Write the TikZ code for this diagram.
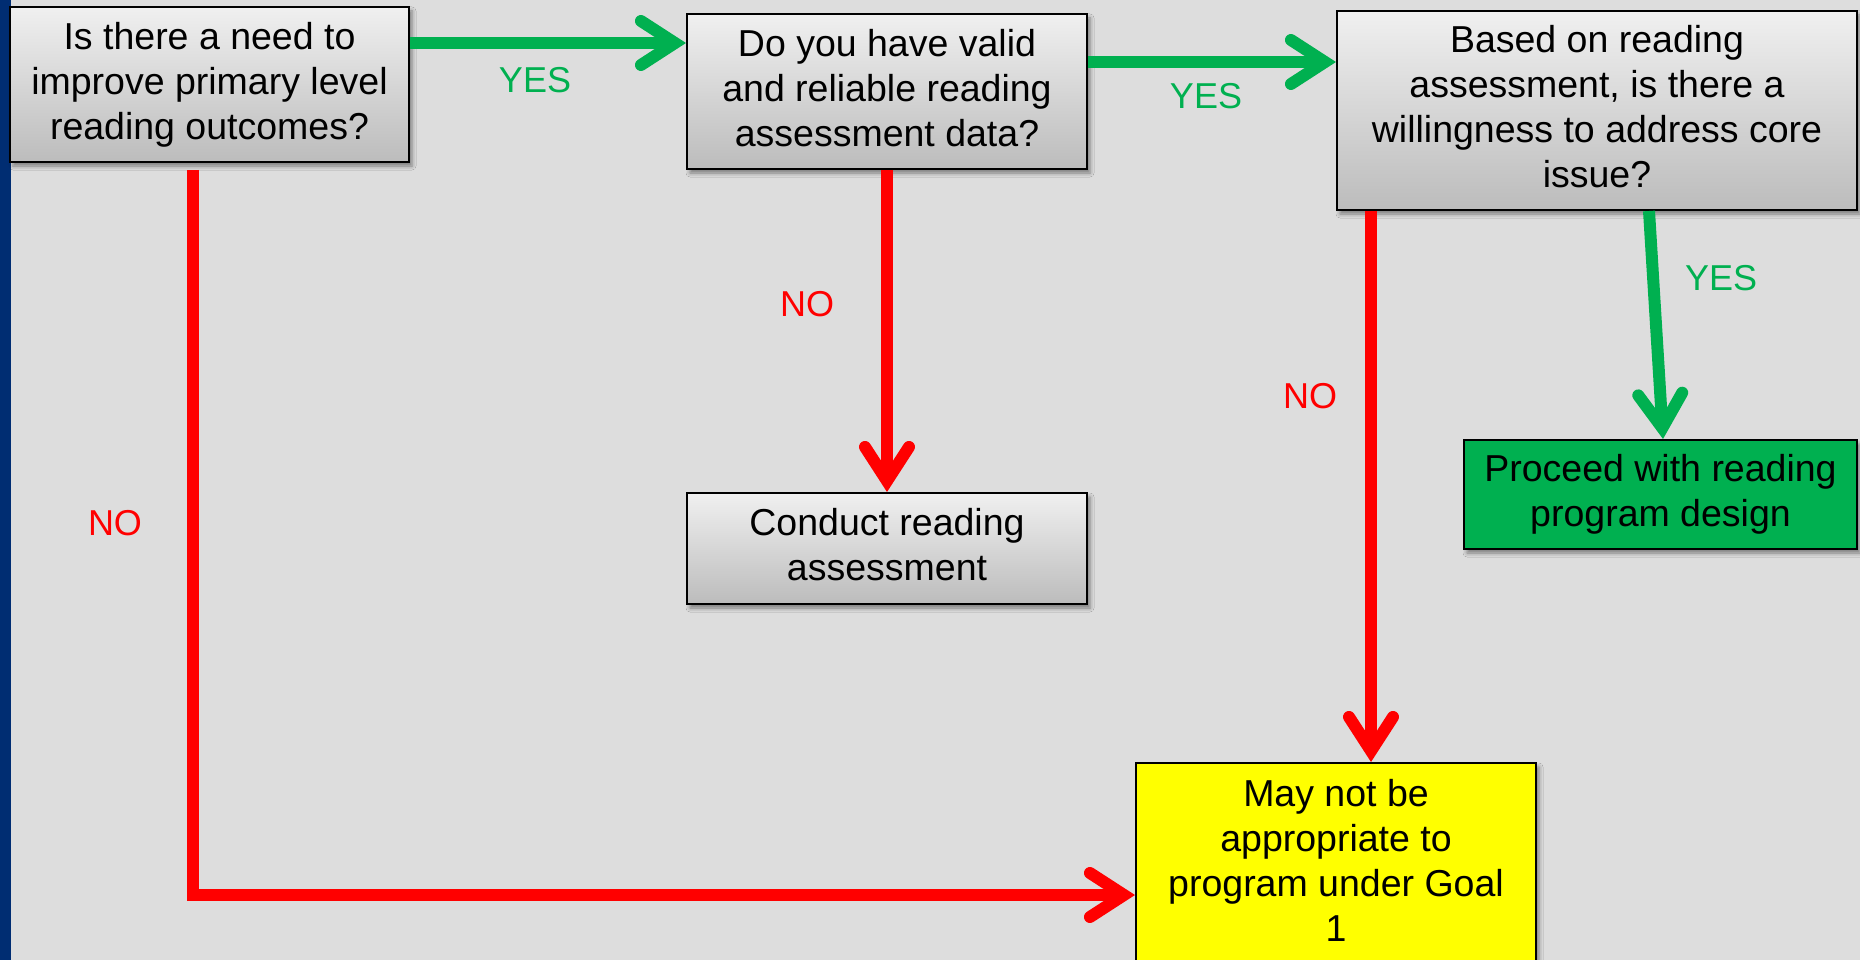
\documentclass[tikz,border=0pt]{standalone}
\usepackage{fontspec}
\setmainfont{Liberation Sans}
\usetikzlibrary{arrows.meta,shadows.blur}

\definecolor{bgcol}{RGB}{221,221,221}
\definecolor{navy}{RGB}{0,45,114}
\definecolor{yesgreen}{RGB}{0,176,80}
\definecolor{nored}{RGB}{255,0,0}
\definecolor{boxtop}{RGB}{240,240,240}
\definecolor{boxbot}{RGB}{188,188,188}
\definecolor{goalyellow}{RGB}{255,255,0}

% line strut using the font's full ascent and descent
\newcommand\linestrut{\rule[-0.212em]{0pt}{1.117em}}

\tikzset{
  chevron/.tip={Straight Barb[length=34pt,width=44pt,line cap=round,line join=miter]},
  box/.style={draw=black, line width=2pt, inner sep=0pt, align=center,
    font=\fontsize{37.5}{45}\selectfont,
    execute at begin node=\linestrut, execute at end node=\linestrut,
    blur shadow={shadow xshift=3pt, shadow yshift=-4pt,
                 shadow blur radius=4pt, shadow opacity=45}},
  qbox/.style={box, top color=boxtop, bottom color=boxbot},
  gobox/.style={box, fill=yesgreen},
  stopbox/.style={box, fill=goalyellow},
  yescon/.style={draw=yesgreen, line width=12pt, -chevron},
  nocon/.style={draw=nored, line width=12pt, -chevron, line join=miter},
  yeslbl/.style={text=yesgreen, inner sep=0pt, font=\fontsize{36}{43}\selectfont},
  nolbl/.style={text=nored, inner sep=0pt, font=\fontsize{36}{43}\selectfont},
}

\begin{document}
\begin{tikzpicture}[x=1pt,y=-1pt]
  \useasboundingbox (0,0) rectangle (1860,960);
  \clip (0,0) rectangle (1860,960);
  % slide background and left band
  \fill[bgcol] (0,0) rectangle (1860,960);
  \fill[navy] (0,0) rectangle (11,960);

  % decision boxes
  \node[qbox, minimum width=399pt, minimum height=155pt] (need) at (209.5,84.5)
    {Is there a need to\\improve primary level\\reading outcomes?};
  \node[qbox, minimum width=400pt, minimum height=155pt] (data) at (887,91.5)
    {Do you have valid\\and reliable reading\\assessment data?};
  \node[qbox, minimum width=520pt, minimum height=199pt] (will) at (1597,110.5)
    {Based on reading\\assessment, is there a\\willingness to address core\\issue?};
  \node[qbox, minimum width=400pt, minimum height=111pt] (conduct) at (887,548.5)
    {Conduct reading\\assessment};
  \node[gobox, minimum width=393pt, minimum height=109pt] (proceed) at (1660.5,494.5)
    {Proceed with reading\\program design};
  \node[stopbox, minimum width=400pt, minimum height=202pt] (goal) at (1336,864)
    {May not be\\appropriate to\\program under Goal\\1};

  % YES connectors
  \draw[yescon] (need.east |- 0,43) -- (data.west |- 0,43);
  \draw[yescon] (data.east |- 0,62) -- (will.west |- 0,62);
  \draw[yescon] (will.south -| 1649,0) -- (proceed.north -| 1663,0);

  % NO connectors
  \draw[nocon] (data.south -| 887,0) -- (conduct.north -| 887,0);
  \draw[nocon] (will.south -| 1371,0) -- (goal.north -| 1371,0);
  \draw[nocon, shorten <=7pt] (need.south -| 193,0) |- (goal.west |- 0,895);

  % branch labels
  \node[yeslbl] (y1) at (535,80) {YES};
  \node[yeslbl] (y2) at (1206,96) {YES};
  \node[yeslbl] (y3) at (1721,278) {YES};
  \node[nolbl] (n1) at (807,304) {NO};
  \node[nolbl] (n2) at (1310,396) {NO};
  \node[nolbl] (n3) at (115,523) {NO};
\end{tikzpicture}
\end{document}
